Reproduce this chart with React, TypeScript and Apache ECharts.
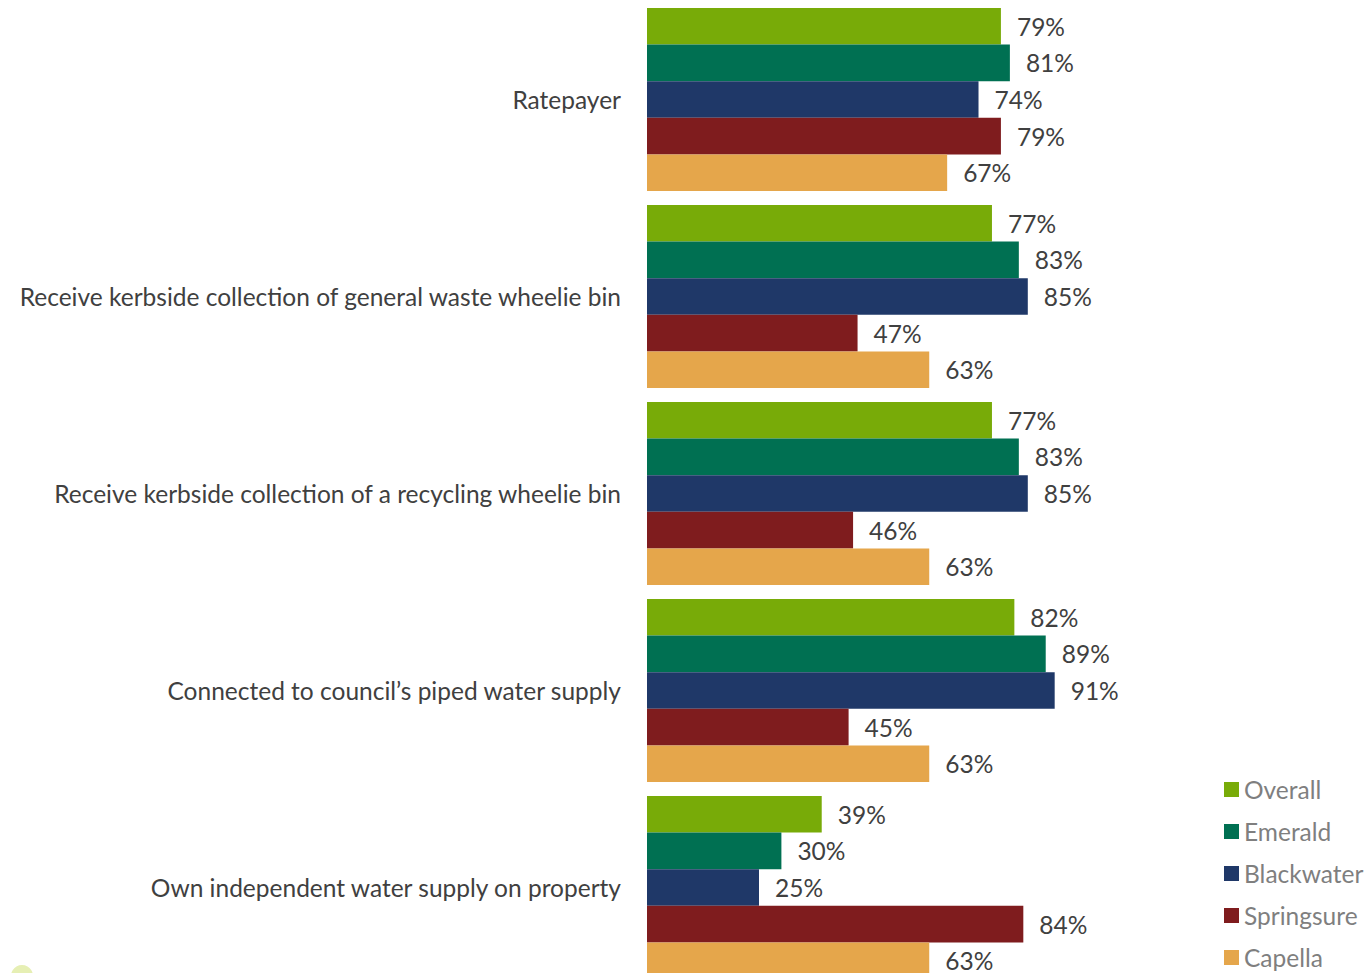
import React, { useEffect, useRef } from "react";
import * as echarts from "echarts";

const categories = [
  "Ratepayer",
  "Receive kerbside collection of general waste wheelie bin",
  "Receive kerbside collection of a recycling wheelie bin",
  "Connected to council\u2019s piped water supply",
  "Own independent water supply on property",
];
const seriesNames = ["Overall", "Emerald", "Blackwater", "Springsure", "Capella"];
const overall = [79, 77, 77, 82, 39];
const emerald = [81, 83, 83, 89, 30];
const blackwater = [74, 85, 85, 91, 25];
const springsure = [79, 47, 46, 45, 84];
const capella = [67, 63, 63, 63, 63];
const colors = ["#78AB08", "#007052", "#1F3868", "#7F1C1E", "#E5A64B"];

const FONT = "Lato, 'Open Sans', sans-serif";
const FS = 24.5;

export default function App() {
  const ref = useRef<HTMLDivElement>(null);
  useEffect(() => {
    if (!ref.current) return;
    const chart = echarts.init(ref.current, undefined, { renderer: "svg" });
    const values = [overall, emerald, blackwater, springsure, capella];
    chart.setOption({
      animation: false,
      textStyle: { fontFamily: FONT },
      grid: {
        left: 647,
        width: 448,
        top: 1,
        height: 985,
        containLabel: false,
        outerBoundsMode: "none",
      },
      xAxis: { type: "value", min: 0, max: 100, show: false },
      yAxis: {
        type: "category",
        data: categories,
        inverse: true,
        axisLine: { show: false },
        axisTick: { show: false },
        axisLabel: { color: "#404040", fontSize: FS, margin: 26, fontFamily: FONT },
      },
      legend: seriesNames.map((name, i) => ({
        orient: "vertical",
        left: 1219,
        top: 772 + i * 42,
        itemWidth: 15,
        itemHeight: 15,
        icon: "rect",
        padding: [5, 5, 0, 5],
        textStyle: { color: "#7F7F7F", fontSize: FS, lineHeight: 24, fontFamily: FONT },
        data: [name],
      })),
      series: seriesNames.map((name, i) => ({
        name,
        type: "bar",
        data: values[i],
        barGap: "0%",
        barCategoryGap: "7%",
        itemStyle: { color: colors[i] },
        label: {
          show: true,
          position: "right",
          distance: 16,
          formatter: "{c}%",
          color: "#404040",
          fontSize: FS,
          fontFamily: FONT,
        },
      })),
      graphic: [
        {
          type: "circle",
          shape: { cx: 22, cy: 976, r: 11 },
          style: { fill: "#E6EFB4" },
        },
      ],
    });
    return () => chart.dispose();
  }, []);
  return (
    <div
      ref={ref}
      style={{ position: "fixed", left: 0, top: 0, width: 1368, height: 973, background: "#fff" }}
    />
  );
}
